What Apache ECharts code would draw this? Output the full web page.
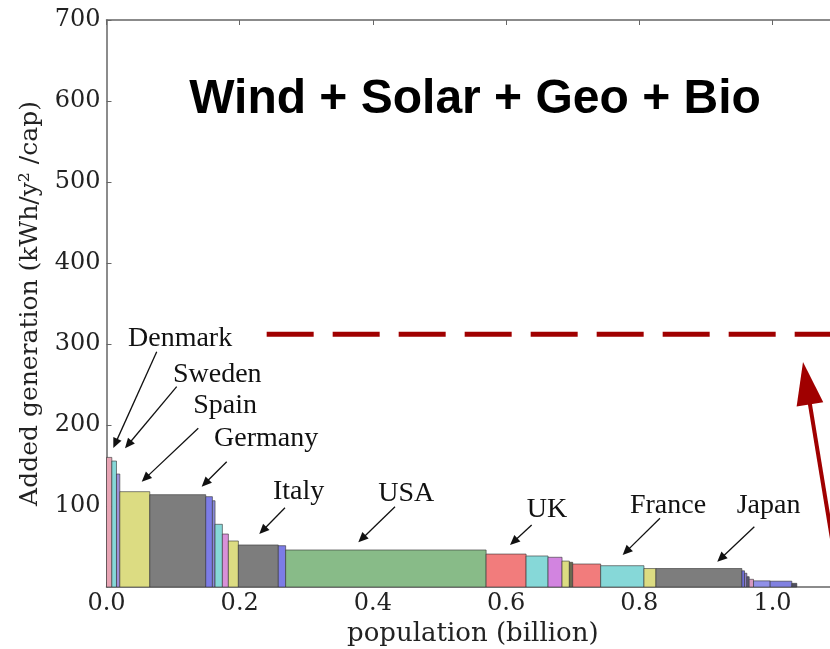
<!DOCTYPE html>
<html>
<head>
<meta charset="utf-8">
<script src="https://cdn.jsdelivr.net/npm/echarts@6/dist/echarts.min.js"></script>
<style>
html,body{margin:0;padding:0;background:#fff;}
#chart{width:830px;height:649px;}
</style>
</head>
<body>
<div id="chart"></div>
<script>
// ---- data ----
const countries = ['Denmark','Sweden','','Spain','Germany','','','','','','Italy','','USA','UK','','','','','','France','','Japan','','','','','','',''];
const population = [0.008,0.007,0.005,0.045,0.084,0.010,0.004,0.011,0.009,0.015,0.060,0.011,0.301,0.060,0.033,0.021,0.011,0.005,0.042,0.065,0.018,0.129,0.004,0.0035,0.0035,0.0065,0.025,0.0325,0.0075];
const generation = [160,155.5,139.5,117.7,114,111.5,106.5,77.4,65.4,56.8,51.9,51,45.7,40.7,38.3,36.7,32,30.5,28.4,26.3,22.8,22.8,20,17,12.7,9.5,7.6,7.2,4.5];
const targetLevel = 312;
const xTickLabels = ['0.0','0.2','0.4','0.6','0.8','1.0'];
const yTickLabels = ['100','200','300','400','500','600','700'];

// ---- styles ----
const barColors = ['#e8a4b4','#86d8d8','#9c8fd8','#dcdc82','#7d7d7d','#7c7ce6','#8a8ad8','#86d8d8','#d890d8','#dcdc82','#7d7d7d','#7c7ce6','#88bb88','#f27c7c','#86d8d8','#d284e0','#dcdc82','#6a6a50','#f27c7c','#86d8d8','#dcdc82','#7d7d7d','#7070d8','#9080c8','#606080','#d898c0','#9090e8','#8080e0','#505060'];

const barData = [];
let acc = 0;
for (let i = 0; i < population.length; i++) {
  barData.push([acc, acc + population[i], generation[i], countries[i]]);
  acc += population[i];
}

const chart = echarts.init(document.getElementById('chart'));
const serif = 'DejaVu Serif';
const axisColor = '#666';

chart.setOption({
  animation: false,
  grid: {left: 106.5, top: 20, width: 732.6, height: 567, containLabel: false, outerBoundsMode: 'none'},
  xAxis: [{
    type: 'value', min: 0, max: 1.1, interval: 0.2, position: 'bottom',
    axisLine: {show: true, onZero: false, lineStyle: {color: axisColor, width: 1.5}},
    axisTick: {show: true, inside: true, length: 5, lineStyle: {color: axisColor}},
    axisLabel: {fontFamily: serif, fontSize: 24, color: '#222', margin: 5, showMaxLabel: false,
      formatter: v => { const s = v.toFixed(1); return xTickLabels.indexOf(s) >= 0 ? s : ''; }},
    splitLine: {show: false},
    name: 'population (billion)', nameLocation: 'middle', nameGap: 32,
    nameTextStyle: {fontFamily: serif, fontSize: 26, color: '#222'}
  }, {
    type: 'value', min: 0, max: 1.1, interval: 0.2, position: 'top',
    axisLine: {show: true, onZero: false, lineStyle: {color: axisColor, width: 1.5}},
    axisTick: {show: true, inside: true, length: 5, lineStyle: {color: axisColor}},
    axisLabel: {show: false}, splitLine: {show: false}
  }],
  yAxis: {
    type: 'value', min: 0, max: 700, interval: 100,
    axisLine: {show: true, onZero: false, lineStyle: {color: axisColor, width: 1.5}},
    axisTick: {show: true, inside: true, length: 5, lineStyle: {color: axisColor}},
    axisLabel: {fontFamily: serif, fontSize: 24, color: '#222', margin: 6, showMinLabel: false,
      formatter: v => { const s = String(v); return yTickLabels.indexOf(s) >= 0 ? s : ''; }},
    splitLine: {show: false},
    name: 'Added generation (kWh/y² /cap)', nameLocation: 'middle', nameGap: 64,
    nameTextStyle: {fontFamily: serif, fontSize: 25, color: '#222'}
  },
  series: [{
    type: 'custom',
    encode: {x: [0, 1], y: 2},
    data: barData,
    renderItem: function (params, api) {
      const p0 = api.coord([api.value(0), api.value(2)]);
      const p1 = api.coord([api.value(1), 0]);
      return {
        type: 'rect',
        shape: {x: p0[0], y: p0[1], width: p1[0] - p0[0], height: p1[1] - p0[1]},
        style: {fill: barColors[params.dataIndex], stroke: 'rgba(50,50,50,0.6)', lineWidth: 1}
      };
    }
  }]
});

// ---- annotations (placed in data coordinates) ----
const toPx = (x, y) => chart.convertToPixel({gridIndex: 0}, [x, y]);
const labels = [
  {t: 'Denmark', at: [0.0323, 306.2], from: [0.0754, 290.5], to: [0.0102, 171.6]},
  {t: 'Sweden',  at: [0.0998, 261.7], from: [0.1054, 247.3], to: [0.0278, 171.2]},
  {t: 'Spain',   at: [0.1303, 223.5], from: [0.1378, 195.9], to: [0.0529, 130]},
  {t: 'Germany', at: [0.1614, 182.7], from: [0.1805, 154.7], to: [0.1429, 123.8]},
  {t: 'Italy',   at: [0.2500, 117.9], from: [0.2680, 97.8],  to: [0.2294, 65.4]},
  {t: 'USA',     at: [0.4080, 114.8], from: [0.4332, 99.1],  to: [0.3781, 55.2]},
  {t: 'UK',      at: [0.6310, 95],    from: [0.6384, 76.5],  to: [0.6059, 51.9]},
  {t: 'France',  at: [0.7860, 100],   from: [0.8311, 84.8],  to: [0.7750, 39.5]},
  {t: 'Japan',   at: [0.9462, 100],   from: [0.9727, 74.4],  to: [0.9171, 31.2]}
];

function arrow(p0, p1, L, W, lw, color) {
  const dx = p1[0] - p0[0], dy = p1[1] - p0[1];
  const len = Math.sqrt(dx * dx + dy * dy);
  const ux = dx / len, uy = dy / len;
  const bx = p1[0] - ux * L, by = p1[1] - uy * L;
  const nx = -uy, ny = ux;
  return [
    {type: 'line', z: 100, shape: {x1: p0[0], y1: p0[1], x2: bx + ux * L * 0.3, y2: by + uy * L * 0.3},
     style: {stroke: color, lineWidth: lw}},
    {type: 'polygon', z: 101, shape: {points: [p1, [bx + nx * W, by + ny * W], [bx - nx * W, by - ny * W]]},
     style: {fill: color}}
  ];
}

const g = [];
g.push({type: 'text', z: 100, style: {text: 'Wind + Solar + Geo + Bio', x: 475, y: 100,
  fontFamily: 'Liberation Sans', fontWeight: 'bold', fontSize: 48, fill: '#000',
  align: 'center', verticalAlign: 'middle'}});
labels.forEach(l => {
  const p = toPx(l.at[0], l.at[1]);
  g.push({type: 'text', z: 100, style: {text: l.t, x: p[0], y: p[1], fontFamily: 'Liberation Serif',
    fontSize: 28, fill: '#111', align: 'left', verticalAlign: 'middle'}});
  arrow(toPx(l.from[0], l.from[1]), toPx(l.to[0], l.to[1]), 10, 4.5, 1.3, '#111').forEach(e => g.push(e));
});
// dashed target line
const d0 = toPx(0.2405, targetLevel), d1 = toPx(1.1, targetLevel);
g.push({type: 'line', z: 100, shape: {x1: d0[0], y1: d0[1], x2: d1[0], y2: d1[1]},
  style: {stroke: '#a00000', lineWidth: 5, lineDash: [47, 19]}});
// red arrow pointing to the target line
arrow(toPx(1.1044, -16), toPx(1.0458, 277.8), 43, 13.5, 4, '#a00000').forEach(e => g.push(e));

chart.setOption({graphic: g});
</script>
</body>
</html>
